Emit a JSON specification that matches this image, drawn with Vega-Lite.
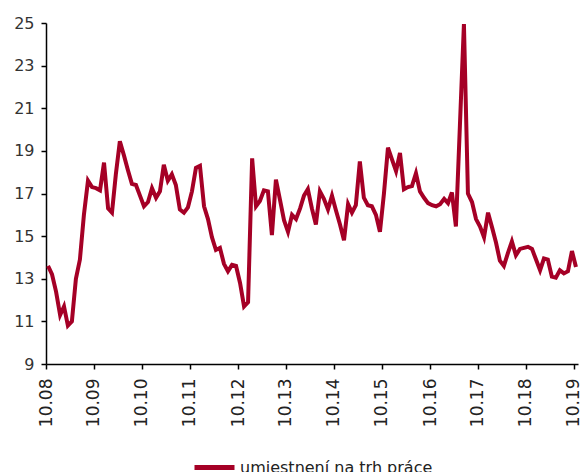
{
  "$schema": "https://vega.github.io/schema/vega-lite/v6.json",
  "width": 532,
  "height": 341,
  "autosize": "none",
  "padding": {"left": 46, "top": 23, "right": 7, "bottom": 108},
  "background": "white",
  "config": {
    "view": {"stroke": null},
    "font": "DejaVu Sans",
    "axis": {"grid": false, "domainColor": "#000000", "domainWidth": 1.5, "tickColor": "#000000", "tickWidth": 1.5, "tickSize": 5, "labelFont": "DejaVu Sans", "labelFontSize": 16, "labelColor": "#333333", "title": null}
  },
  "data": {
    "values": [
      {"date": "2008-10-01", "value": 13.6},
      {"date": "2008-11-01", "value": 13.2},
      {"date": "2008-12-01", "value": 12.4},
      {"date": "2009-01-01", "value": 11.3},
      {"date": "2009-02-01", "value": 11.7},
      {"date": "2009-03-01", "value": 10.8},
      {"date": "2009-04-01", "value": 11.0},
      {"date": "2009-05-01", "value": 13.0},
      {"date": "2009-06-01", "value": 13.9},
      {"date": "2009-07-01", "value": 16.0},
      {"date": "2009-08-01", "value": 17.6},
      {"date": "2009-09-01", "value": 17.3},
      {"date": "2009-10-01", "value": 17.25},
      {"date": "2009-11-01", "value": 17.15},
      {"date": "2009-12-01", "value": 18.45},
      {"date": "2010-01-01", "value": 16.3},
      {"date": "2010-02-01", "value": 16.1},
      {"date": "2010-03-01", "value": 17.9},
      {"date": "2010-04-01", "value": 19.45},
      {"date": "2010-05-01", "value": 18.8},
      {"date": "2010-06-01", "value": 18.1},
      {"date": "2010-07-01", "value": 17.45},
      {"date": "2010-08-01", "value": 17.4},
      {"date": "2010-09-01", "value": 16.9},
      {"date": "2010-10-01", "value": 16.4},
      {"date": "2010-11-01", "value": 16.6},
      {"date": "2010-12-01", "value": 17.25},
      {"date": "2011-01-01", "value": 16.8},
      {"date": "2011-02-01", "value": 17.1},
      {"date": "2011-03-01", "value": 18.35},
      {"date": "2011-04-01", "value": 17.6},
      {"date": "2011-05-01", "value": 17.9},
      {"date": "2011-06-01", "value": 17.4},
      {"date": "2011-07-01", "value": 16.25},
      {"date": "2011-08-01", "value": 16.1},
      {"date": "2011-09-01", "value": 16.35},
      {"date": "2011-10-01", "value": 17.1},
      {"date": "2011-11-01", "value": 18.2},
      {"date": "2011-12-01", "value": 18.3},
      {"date": "2012-01-01", "value": 16.4},
      {"date": "2012-02-01", "value": 15.8},
      {"date": "2012-03-01", "value": 14.95},
      {"date": "2012-04-01", "value": 14.35},
      {"date": "2012-05-01", "value": 14.45},
      {"date": "2012-06-01", "value": 13.7},
      {"date": "2012-07-01", "value": 13.35},
      {"date": "2012-08-01", "value": 13.65},
      {"date": "2012-09-01", "value": 13.6},
      {"date": "2012-10-01", "value": 12.8},
      {"date": "2012-11-01", "value": 11.7},
      {"date": "2012-12-01", "value": 11.9},
      {"date": "2013-01-01", "value": 18.65},
      {"date": "2013-02-01", "value": 16.4},
      {"date": "2013-03-01", "value": 16.65},
      {"date": "2013-04-01", "value": 17.15},
      {"date": "2013-05-01", "value": 17.1},
      {"date": "2013-06-01", "value": 15.05},
      {"date": "2013-07-01", "value": 17.65},
      {"date": "2013-08-01", "value": 16.7},
      {"date": "2013-09-01", "value": 15.75},
      {"date": "2013-10-01", "value": 15.2},
      {"date": "2013-11-01", "value": 16.0},
      {"date": "2013-12-01", "value": 15.8},
      {"date": "2014-01-01", "value": 16.3},
      {"date": "2014-02-01", "value": 16.9},
      {"date": "2014-03-01", "value": 17.2},
      {"date": "2014-04-01", "value": 16.3},
      {"date": "2014-05-01", "value": 15.55},
      {"date": "2014-06-01", "value": 17.1},
      {"date": "2014-07-01", "value": 16.75},
      {"date": "2014-08-01", "value": 16.25},
      {"date": "2014-09-01", "value": 16.9},
      {"date": "2014-10-01", "value": 16.2},
      {"date": "2014-11-01", "value": 15.55},
      {"date": "2014-12-01", "value": 14.8},
      {"date": "2015-01-01", "value": 16.5},
      {"date": "2015-02-01", "value": 16.1},
      {"date": "2015-03-01", "value": 16.45},
      {"date": "2015-04-01", "value": 18.5},
      {"date": "2015-05-01", "value": 16.8},
      {"date": "2015-06-01", "value": 16.45},
      {"date": "2015-07-01", "value": 16.4},
      {"date": "2015-08-01", "value": 16.0},
      {"date": "2015-09-01", "value": 15.2},
      {"date": "2015-10-01", "value": 17.0},
      {"date": "2015-11-01", "value": 19.15},
      {"date": "2015-12-01", "value": 18.6},
      {"date": "2016-01-01", "value": 18.05},
      {"date": "2016-02-01", "value": 18.9},
      {"date": "2016-03-01", "value": 17.2},
      {"date": "2016-04-01", "value": 17.3},
      {"date": "2016-05-01", "value": 17.35},
      {"date": "2016-06-01", "value": 17.95},
      {"date": "2016-07-01", "value": 17.1},
      {"date": "2016-08-01", "value": 16.8},
      {"date": "2016-09-01", "value": 16.55},
      {"date": "2016-10-01", "value": 16.45},
      {"date": "2016-11-01", "value": 16.4},
      {"date": "2016-12-01", "value": 16.5},
      {"date": "2017-01-01", "value": 16.75},
      {"date": "2017-02-01", "value": 16.55},
      {"date": "2017-03-01", "value": 17.05},
      {"date": "2017-04-01", "value": 15.45},
      {"date": "2017-05-01", "value": 20.2},
      {"date": "2017-06-01", "value": 24.95},
      {"date": "2017-07-01", "value": 17.0},
      {"date": "2017-08-01", "value": 16.6},
      {"date": "2017-09-01", "value": 15.8},
      {"date": "2017-10-01", "value": 15.45},
      {"date": "2017-11-01", "value": 14.95},
      {"date": "2017-12-01", "value": 16.1},
      {"date": "2018-01-01", "value": 15.4},
      {"date": "2018-02-01", "value": 14.7},
      {"date": "2018-03-01", "value": 13.85},
      {"date": "2018-04-01", "value": 13.6},
      {"date": "2018-05-01", "value": 14.2},
      {"date": "2018-06-01", "value": 14.75},
      {"date": "2018-07-01", "value": 14.1},
      {"date": "2018-08-01", "value": 14.4},
      {"date": "2018-09-01", "value": 14.45},
      {"date": "2018-10-01", "value": 14.5},
      {"date": "2018-11-01", "value": 14.4},
      {"date": "2018-12-01", "value": 13.9},
      {"date": "2019-01-01", "value": 13.4},
      {"date": "2019-02-01", "value": 13.95},
      {"date": "2019-03-01", "value": 13.9},
      {"date": "2019-04-01", "value": 13.1},
      {"date": "2019-05-01", "value": 13.05},
      {"date": "2019-06-01", "value": 13.4},
      {"date": "2019-07-01", "value": 13.25},
      {"date": "2019-08-01", "value": 13.35},
      {"date": "2019-09-01", "value": 14.3},
      {"date": "2019-10-01", "value": 13.55}
    ]
  },
  "mark": {"type": "line", "strokeWidth": 4, "strokeJoin": "miter", "clip": false},
  "encoding": {
    "x": {
      "field": "date",
      "type": "temporal",
      "timeUnit": "utcyearmonth",
      "bandPosition": 0.5,
      "scale": {"type": "utc", "domain": [{"year": 2008, "month": 10, "date": 1, "utc": true}, {"year": 2019, "month": 11, "date": 1, "utc": true}]},
      "axis": {
        "values": [
          {"year": 2008, "month": 10, "date": 1, "utc": true},
          {"year": 2009, "month": 10, "date": 1, "utc": true},
          {"year": 2010, "month": 10, "date": 1, "utc": true},
          {"year": 2011, "month": 10, "date": 1, "utc": true},
          {"year": 2012, "month": 10, "date": 1, "utc": true},
          {"year": 2013, "month": 10, "date": 1, "utc": true},
          {"year": 2014, "month": 10, "date": 1, "utc": true},
          {"year": 2015, "month": 10, "date": 1, "utc": true},
          {"year": 2016, "month": 10, "date": 1, "utc": true},
          {"year": 2017, "month": 10, "date": 1, "utc": true},
          {"year": 2018, "month": 10, "date": 1, "utc": true},
          {"year": 2019, "month": 10, "date": 1, "utc": true}
        ],
        "labelExpr": "utcFormat(datum.value, '%m.%y')",
        "labelAngle": -90,
        "labelAlign": "right",
        "labelBaseline": "middle",
        "labelPadding": 9,
        "labelFontSize": 17,
        "labelOverlap": false,
        "labelFlush": false,
        "labelColor": "#222222"
      }
    },
    "y": {
      "field": "value",
      "type": "quantitative",
      "scale": {"domain": [9, 25], "nice": false, "zero": false},
      "axis": {"values": [9, 11, 13, 15, 17, 19, 21, 23, 25], "labelPadding": 7, "labelFlush": false}
    },
    "color": {
      "datum": "umiestnení na trh práce",
      "scale": {"range": ["#A50026"]},
      "legend": {
        "title": null,
        "orient": "none",
        "legendX": 146,
        "legendY": 422,
        "symbolType": "stroke",
        "symbolSize": 1600,
        "symbolStrokeWidth": 5,
        "labelFontSize": 16,
        "labelFont": "DejaVu Sans",
        "labelColor": "#222222",
        "labelOffset": 3,
        "labelLimit": 0,
        "padding": 0
      }
    }
  }
}
